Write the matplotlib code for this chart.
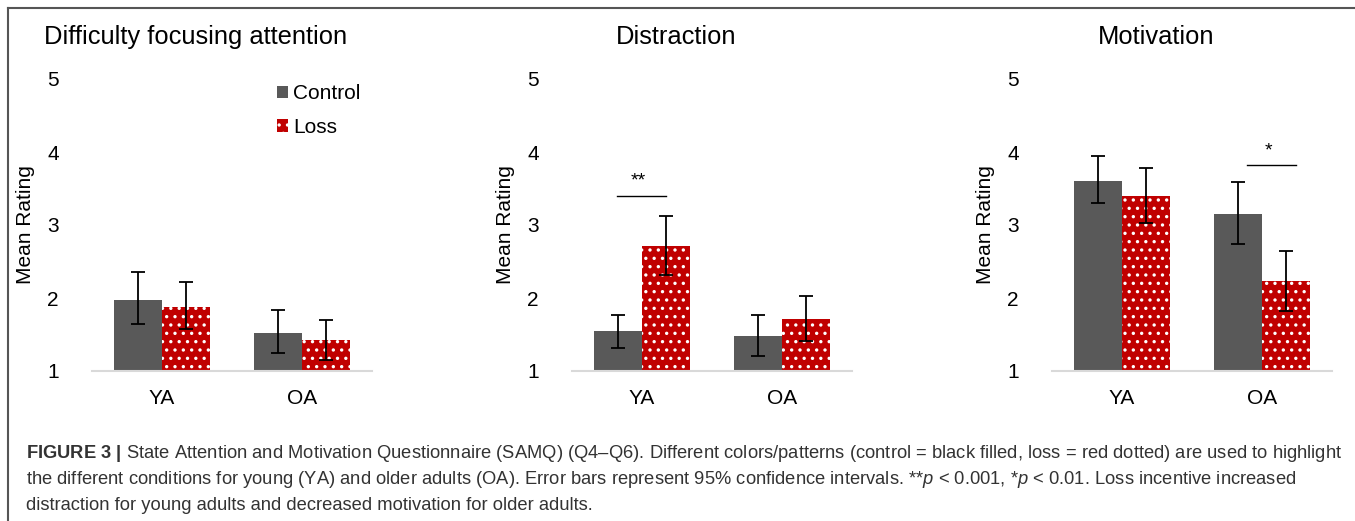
import matplotlib
matplotlib.use("Agg")
import matplotlib.pyplot as plt
from matplotlib.lines import Line2D
import numpy as np

plt.rcParams['font.family'] = ['Liberation Sans', 'DejaVu Sans']
plt.rcParams['mathtext.fontset'] = 'custom'
plt.rcParams['mathtext.rm'] = 'Liberation Sans'
plt.rcParams['mathtext.it'] = 'Liberation Sans:italic'
plt.rcParams['mathtext.bf'] = 'Liberation Sans:bold'
plt.rcParams['hatch.linewidth'] = 1.2

groups = ['YA', 'OA']
titles = ['Difficulty focusing attention', 'Distraction', 'Motivation']

# means and 95% CI bounds, one row per panel, [YA, OA]
control_mean = [[1.97, 1.52], [1.55, 1.48], [3.60, 3.15]]
control_lo = [[1.64, 1.25], [1.31, 1.21], [3.30, 2.74]]
control_hi = [[2.36, 1.84], [1.77, 1.77], [3.95, 3.59]]
loss_mean = [[1.88, 1.42], [2.71, 1.71], [3.40, 2.23]]
loss_lo = [[1.58, 1.15], [2.32, 1.41], [3.03, 1.82]]
loss_hi = [[2.22, 1.70], [3.12, 2.03], [3.78, 2.64]]

# significance brackets: panel, group, x from, x to (relative to group), line y, label
sig_marks = [(1, 0, -0.18, 0.17, 3.40, '**'), (2, 1, -0.11, 0.24, 3.82, '*')]

CONTROL = '#595959'
LOSS = '#C00000'

W, H = 1355, 521
fig = plt.figure(figsize=(W / 100, H / 100), dpi=100)

ax_left = [92, 572, 1052]
title_x = [196, 676, 1156]
width = 0.34
x = np.arange(len(groups))

for i in range(3):
    ax = fig.add_axes([ax_left[i] / W, 1 - 371 / H, 280 / W, 292 / H])
    cm = np.array(control_mean[i])
    lm = np.array(loss_mean[i])
    bc = ax.bar(x - width / 2, cm - 1, width, bottom=1, color=CONTROL,
                label='Control', zorder=2)
    bl = ax.bar(x + width / 2, lm - 1, width, bottom=1, color=LOSS,
                edgecolor='white', linewidth=0, hatch='..', label='Loss', zorder=2)
    ax.errorbar(x - width / 2, cm,
                yerr=[cm - np.array(control_lo[i]), np.array(control_hi[i]) - cm],
                fmt='none', ecolor='black', elinewidth=1.3, capsize=5, capthick=1.3, zorder=3)
    ax.errorbar(x + width / 2, lm,
                yerr=[lm - np.array(loss_lo[i]), np.array(loss_hi[i]) - lm],
                fmt='none', ecolor='black', elinewidth=1.3, capsize=5, capthick=1.3, zorder=3)

    ax.set_xlim(-0.5, 1.5)
    ax.set_ylim(1, 5)
    ax.set_yticks([1, 2, 3, 4, 5])
    ax.set_xticks(x)
    ax.set_xticklabels(groups)
    ax.tick_params(axis='both', length=0, labelsize=15)
    ax.tick_params(axis='y', pad=24)
    ax.tick_params(axis='x', pad=13)
    for s in ['top', 'right', 'left']:
        ax.spines[s].set_visible(False)
    ax.spines['bottom'].set_color('#D9D9D9')
    ax.spines['bottom'].set_linewidth(1.5)
    ax.set_ylabel('Mean Rating', fontsize=15)
    ax.yaxis.set_label_coords(-57 / 280, 0.5)

    for p, g, x0, x1, y, lab in sig_marks:
        if p == i:
            ax.plot([g + x0, g + x1], [y, y], color='black', lw=1)
            ax.text(g + (x0 + x1) / 2 - 0.02, y + 0.08, lab, ha='center', va='bottom', fontsize=14)

    fig.text(title_x[i] / W, 1 - 37 / H, titles[i], ha='center', va='center', fontsize=18.4)

    if i == 0:
        ax.legend(handles=[bc, bl], loc='upper left', bbox_to_anchor=(0.63, 1.01),
                  frameon=False, fontsize=15, handlelength=0.55, handleheight=0.55,
                  handletextpad=0.25, labelspacing=0.7, borderaxespad=0)

# frame lines along the top and left edge
fig.add_artist(Line2D([8 / W, 1], [1 - 8 / H, 1 - 8 / H], color='#555555', lw=1.5))
fig.add_artist(Line2D([8 / W, 8 / W], [0, 1 - 8 / H], color='#555555', lw=1.5))

caption = [
    r"$\bf{FIGURE\ 3\ |}$ State Attention and Motivation Questionnaire (SAMQ) (Q4–Q6). Different colors/patterns (control = black filled, loss = red dotted) are used to highlight",
    r"the different conditions for young (YA) and older adults (OA). Error bars represent 95% confidence intervals. **$p$ < 0.001, *$p$ < 0.01. Loss incentive increased",
    r"distraction for young adults and decreased motivation for older adults.",
]
for k, line in enumerate(caption):
    fig.text(26 / W, 1 - (453 + 26 * k) / H, line, ha='left', va='center',
             fontsize=13.2, color='#333333')

fig.savefig('out.png', dpi=100)
